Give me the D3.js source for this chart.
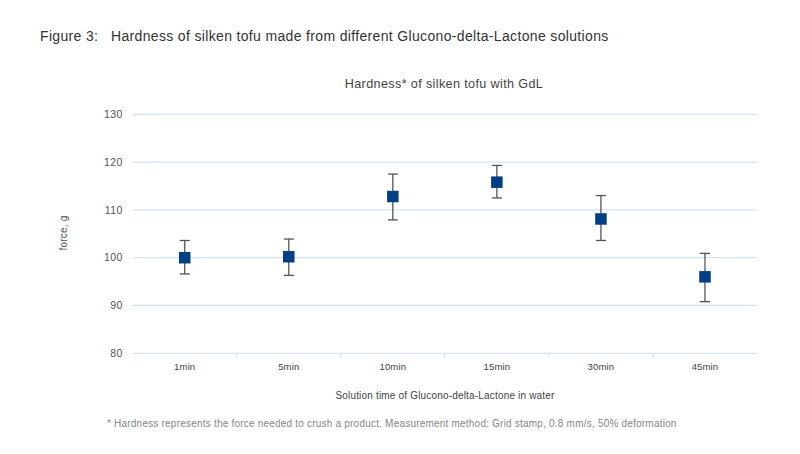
<!DOCTYPE html>
<html><head><meta charset="utf-8">
<script src="https://cdn.jsdelivr.net/npm/d3@7"></script>
<style>body{margin:0;background:#fff;} text{font-family:"Liberation Sans",Arial,sans-serif;}</style>
</head><body>
<svg id="c" width="800" height="454"></svg>
<script>
const categories = ["1min","5min","10min","15min","30min","45min"];
const means = [100, 100.2, 112.8, 115.8, 108.1, 96];
const upper = [103.6, 103.9, 117.5, 119.3, 113, 100.9];
const lower = [96.6, 96.3, 107.9, 112.5, 103.6, 90.8];
const yTicks = [80, 90, 100, 110, 120, 130];

const svg = d3.select("#c");
const m = {left: 132.7, right: 757, top: 114.3, bottom: 353.3};
const x = d3.scaleBand().domain(categories).range([m.left, m.right]);
const y = d3.scaleLinear().domain([80, 130]).range([m.bottom, m.top]);

svg.append("text").attr("x", 40).attr("y", 41).attr("font-size", 14).attr("letter-spacing", 0.34).attr("fill", "#333")
  .attr("xml:space","preserve").text("Figure 3:   Hardness of silken tofu made from different Glucono-delta-Lactone solutions");

svg.append("text").attr("x", 444).attr("y", 88).attr("text-anchor","middle").attr("font-size", 12.6).attr("letter-spacing", 0.37).attr("fill", "#444")
  .text("Hardness* of silken tofu with GdL");

// grid
svg.append("g").selectAll("line").data(yTicks).join("line")
  .attr("x1", m.left).attr("x2", m.right)
  .attr("y1", d => y(d)).attr("y2", d => y(d))
  .attr("stroke", "#d5e3ee").attr("stroke-width", 1.3);

// y tick labels
svg.append("g").selectAll("text").data(yTicks).join("text")
  .attr("x", 122.7).attr("y", d => y(d) + 3.7).attr("text-anchor","end")
  .attr("font-size", 10.5).attr("letter-spacing", 0.4).attr("fill", "#555").text(d => d);

// x category separators
const seps = categories.slice(1);
svg.append("g").selectAll("line").data(seps).join("line")
  .attr("x1", d => x(d)).attr("x2", d => x(d))
  .attr("y1", m.bottom).attr("y2", m.bottom + 4)
  .attr("stroke", "#d5e3ee").attr("stroke-width", 1.3);

// x labels
svg.append("g").selectAll("text").data(categories).join("text")
  .attr("x", d => x(d) + x.bandwidth()/2).attr("y", 370).attr("text-anchor","middle")
  .attr("font-size", 9.6).attr("letter-spacing", 0.1).attr("fill", "#444").text(d => d);

svg.append("text").attr("x", 445).attr("y", 399).attr("text-anchor","middle").attr("font-size", 10).attr("letter-spacing", 0.18).attr("fill", "#444")
  .text("Solution time of Glucono-delta-Lactone in water");

svg.append("text").attr("transform", "translate(67,233) rotate(-90)").attr("text-anchor","middle")
  .attr("font-size", 10).attr("letter-spacing", 0.2).attr("fill", "#555").text("force, g");

svg.append("text").attr("x", 107).attr("y", 427).attr("font-size", 10).attr("letter-spacing", 0.21).attr("fill", "#888")
  .text("* Hardness represents the force needed to crush a product. Measurement method: Grid stamp, 0.8 mm/s, 50% deformation");

// error bars
const data = categories.map((c, i) => ({c, m: means[i], u: upper[i], l: lower[i]}));
const eb = svg.append("g").attr("stroke", "#555").attr("stroke-width", 1.3);
data.forEach(d => {
  const cx = x(d.c) + x.bandwidth()/2;
  eb.append("line").attr("x1", cx).attr("x2", cx).attr("y1", y(d.u)).attr("y2", y(d.l));
  eb.append("line").attr("x1", cx-5).attr("x2", cx+5).attr("y1", y(d.u)).attr("y2", y(d.u));
  eb.append("line").attr("x1", cx-5).attr("x2", cx+5).attr("y1", y(d.l)).attr("y2", y(d.l));
});

// markers
const s = 11.5;
svg.append("g").selectAll("rect").data(data).join("rect")
  .attr("x", d => x(d.c) + x.bandwidth()/2 - s/2).attr("y", d => y(d.m) - s/2)
  .attr("width", s).attr("height", s).attr("fill", "#003e86");
</script>
</body></html>
